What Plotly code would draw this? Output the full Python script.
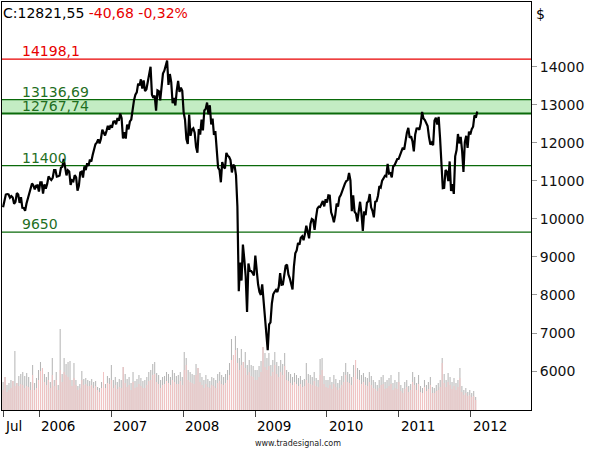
import pandas as pd
import plotly.graph_objects as go

# weekly closes (Friday), Jul 2005 - Feb 2012
close = [
    # 2005
    10303, 10449, 10641, 10652, 10641, 10558, 10600, 10559, 10397, 10447, 10678, 10641, 10419, 10569,
    10292, 10287, 10215, 10402, 10530, 10686, 10766, 10931, 10877, 10778, 10875, 10883, 10718,
    # 2006
    10959, 10960, 10667, 10907, 10793, 10919, 11115, 11061, 11022, 11076, 11280, 11280, 11109,
    11120, 11137, 11347, 11367, 11577, 11380, 11144, 11278, 11247, 10891, 11015, 10989, 11150,
    11090, 10739, 10869, 11220, 11240, 11088, 11381, 11284, 11464, 11393, 11560, 11508, 11679,
    11866, 11961, 12002, 12090, 11986, 12108, 12342, 12280, 12194, 12307, 12445, 12343, 12463,
    # 2007
    12398, 12556, 12566, 12487, 12653, 12580, 12768, 12647, 12114, 12276, 12111, 12481, 12354,
    12560, 12612, 12961, 13121, 13265, 13327, 13556, 13508, 13668, 13424, 13639, 13361, 13409,
    13612, 13907, 14000, 13266, 13182, 13240, 12845, 13379, 13358, 13113, 13443, 13821, 13896,
    14066, 14164, 13522, 13807, 13596, 13043, 13177, 12981, 13372, 13625, 13339, 13451, 13366,
    # 2008
    12800, 12606, 12099, 11971, 12743, 12183, 12348, 12381, 12266, 11894, 11740, 12362, 12216,
    12610, 12325, 12850, 12892, 13058, 12745, 12986, 12480, 12638, 12209, 12307, 11843, 11347,
    11288, 10962, 11496, 11370, 11326, 11734, 11659, 11628, 11544, 11220, 11421, 11388, 11143,
    10325, 8100, 8852, 8378, 9325, 8943, 8497, 7552, 8829, 8635, 8629, 8579, 8515,
    # 2009
    9034, 8599, 8281, 8077, 8001, 8280, 7850, 7366, 7063, 6547, 7224, 7279, 7776,
    8018, 8083, 8131, 8076, 8212, 8575, 8268, 8277, 8500, 8764, 8799, 8539, 8438,
    8280, 8146, 8744, 9093, 9172, 9370, 9321, 9506, 9544, 9441, 9606, 9820, 9665,
    9488, 9865, 9996, 9972, 9713, 10023, 10270, 10319, 10310, 10389, 10471, 10329, 10520,
    # 2010
    10428, 10618, 10610, 10173, 10067, 9908, 10099, 10402, 10325, 10566, 10625, 10742, 10851,
    10927, 10997, 11019, 11204, 11009, 10200, 10620, 10193, 10137, 9931, 10212, 10450, 10144,
    9686, 10198, 10098, 10425, 10466, 10654, 10303, 10213, 10040, 10448, 10462, 10608, 10860,
    10829, 11006, 11063, 11133, 11118, 11445, 11193, 11204, 11092, 11382, 11410, 11492, 11573, 11578,
    # 2011
    11675, 11787, 11872, 11824, 12092, 12273, 12391, 12130, 12170, 12044, 11774, 12221, 12377,
    12380, 12342, 12505, 12811, 12638, 12596, 12512, 12441, 12151, 11952, 12004, 11934, 12583,
    12657, 12480, 12681, 12143, 11444, 10810, 10818, 11285, 11240, 10992, 11510, 10733, 10913,
    10655, 11644, 11809, 12231, 11983, 12153, 11796, 11231, 12019, 12184, 11867, 12294, 12218,
    # 2012
    12360, 12422, 12720, 12660, 12821.55,
]

# volume (mio. shares), one bar every 10 days: total (grey) and down-volume part (pink)
vol_total = [
    140, 165, 125, 135, 150, 145, 295, 135, 170, 180, 190, 170, 185, 165, 140, 225, 135, 160, 200,
    240, 210, 180, 165, 190, 140, 260, 150, 190, 125, 405, 180, 260, 230, 240, 245, 150, 235, 150,
    120, 130, 195, 155, 160, 150, 145, 155, 140, 145, 115, 110, 140, 190, 130, 170, 160, 225,
    150, 165, 140, 155, 150, 215, 180, 155, 165, 135, 190, 145, 155, 175, 160, 145, 150, 165,
    190, 200, 230, 240, 185, 175, 150, 165, 170, 190, 180, 165, 200, 185, 170, 175, 190, 165,
    290, 260, 200, 190, 180, 175, 230, 210, 185, 165, 150, 175, 155, 145, 165, 160, 150, 180,
    190, 175, 165, 180, 200, 235, 355, 275, 370, 310, 260, 305, 240, 290, 225, 250, 225, 220, 200,
    200, 220, 245, 315, 285, 260, 285, 225, 250, 290, 240, 220, 250, 230, 285, 200, 190, 180,
    165, 185, 175, 160, 170, 150, 155, 235, 180, 175, 165, 190, 160, 150, 255, 260, 170, 150,
    150, 165, 140, 175, 155, 135, 150, 170, 190, 235, 190, 180, 165, 225, 250, 210, 200, 175,
    185, 165, 160, 190, 170, 150, 140, 125, 150, 165, 175, 140, 150, 160, 175, 135, 150, 140, 190,
    125, 110, 140, 150, 120, 130, 190, 165, 135, 175, 120, 110, 150, 125, 140, 165, 115, 110,
    125, 135, 150, 260, 180, 150, 185, 165, 140, 160, 135, 150, 210, 120, 100, 110, 90, 100,
    85, 95, 65,
]
vol_down = [
    100, 165, 90, 100, 110, 145, 120, 135, 120, 130, 125, 110, 120, 115, 100, 175, 100, 110, 150,
    195, 210, 140, 125, 150, 110, 175, 120, 150, 100, 200, 140, 190, 175, 165, 150, 120, 160, 125,
    100, 110, 150, 125, 130, 120, 120, 125, 110, 120, 100, 90, 110, 190, 110, 135, 130, 150,
    110, 125, 105, 115, 110, 215, 135, 115, 125, 100, 140, 110, 115, 130, 120, 110, 110, 125,
    145, 150, 175, 180, 140, 130, 110, 125, 130, 145, 135, 125, 150, 140, 130, 130, 145, 125,
    200, 225, 150, 140, 135, 130, 175, 210, 140, 125, 110, 130, 115, 110, 125, 120, 110, 135,
    145, 130, 125, 135, 150, 175, 250, 275, 300, 235, 200, 225, 240, 210, 175, 190, 170, 165, 150,
    150, 165, 190, 315, 215, 200, 220, 170, 190, 225, 180, 165, 190, 175, 220, 150, 145, 135,
    125, 140, 130, 120, 130, 115, 120, 150, 135, 130, 125, 145, 120, 115, 175, 200, 130, 115,
    110, 125, 105, 130, 115, 100, 110, 125, 140, 175, 140, 135, 125, 165, 250, 155, 150, 130,
    140, 125, 120, 140, 125, 110, 105, 95, 110, 125, 130, 105, 110, 120, 130, 100, 110, 105, 140,
    95, 85, 105, 115, 90, 100, 140, 125, 100, 130, 90, 85, 115, 95, 105, 125, 85, 85,
    95, 100, 115, 235, 135, 115, 140, 125, 105, 120, 100, 115, 160, 90, 75, 85, 70, 75,
    65, 70, 50,
]

levels = [14198.1, 13136.69, 12767.74, 11400, 9650]
level_text = ["14198,1", "13136,69", "12767,74", "11400", "9650"]
band = [12767.74, 13136.69]

year_ticks = ["2005-07-01", "2006-01-01", "2007-01-01", "2008-01-01", "2009-01-01",
              "2010-01-01", "2011-01-01", "2012-01-01"]
year_labels = ["Jul", "2006", "2007", "2008", "2009", "2010", "2011", "2012"]
price_ticks = [6000, 7000, 8000, 9000, 10000, 11000, 12000, 13000, 14000]

last_close = "12821,55"
change = "-40,68"
change_pct = "-0,32%"

RED = "#e80000"
GREEN_LINE = "#0a6a0a"
GREEN_TEXT = "#1f6f1f"
FONT = "DejaVu Sans"

weeks = pd.date_range("2005-07-01", periods=len(close), freq="W-FRI")
vol_dates = pd.date_range("2005-07-01", periods=len(vol_total), freq="10D")
bar_w = 86400000 * 5.2  # about one pixel

fig = go.Figure()
# a colour alpha < 1 makes plotly round thin bars to whole pixels instead of widening them
fig.add_trace(go.Bar(x=vol_dates, y=vol_total, yaxis="y2", width=bar_w,
                     marker=dict(color="rgba(180,180,180,0.99)", line_width=0)))
fig.add_trace(go.Bar(x=vol_dates, y=vol_down, yaxis="y2", width=bar_w,
                     marker=dict(color="rgba(243,196,196,0.99)", line_width=0)))
fig.add_trace(go.Scatter(x=weeks, y=close, mode="lines",
                         line=dict(color="black", width=2.2)))

shapes = [dict(type="rect", xref="paper", x0=0, x1=1, yref="y", y0=band[0], y1=band[1],
               fillcolor="#c3ecc3", line_width=0, layer="below")]
for lv in levels:
    col = RED if lv == levels[0] else GREEN_LINE
    w = 2 if lv == band[0] else 1.2
    shapes.append(dict(type="line", xref="paper", x0=0, x1=1, yref="y", y0=lv, y1=lv,
                       line=dict(color=col, width=w), layer="below"))

ann = []
for lv, txt in zip(levels, level_text):
    col = RED if lv == levels[0] else GREEN_TEXT
    ann.append(dict(x=0, xref="paper", xanchor="left", xshift=18, y=lv, yref="y",
                    yanchor="bottom", yshift=-2, text=txt, showarrow=False,
                    font=dict(size=14, color=col, family=FONT)))
for d, lab in zip(year_ticks, year_labels):
    ann.append(dict(x=d, xref="x", xanchor="left", xshift=0, y=0, yref="paper",
                    yanchor="top", yshift=-6, text=lab, showarrow=False,
                    font=dict(size=13.5, color="black", family=FONT)))
ann.append(dict(x=0, xref="paper", xanchor="left", xshift=-1, y=1, yref="paper",
                yanchor="top", yshift=-1,
                text=f"C:{last_close} <span style='color:{RED}'>{change} {change_pct}</span>",
                showarrow=False, font=dict(size=14, color="black", family=FONT)))
ann.append(dict(x=1, xref="paper", xanchor="left", xshift=3, y=1, yref="paper",
                yanchor="top", yshift=-2, text="$", showarrow=False,
                font=dict(size=14, color="black", family=FONT)))
ann.append(dict(x=0.56, xref="paper", xanchor="center", y=0, yref="paper",
                yanchor="top", yshift=-27, text="www.tradesignal.com", showarrow=False,
                font=dict(size=8, color="#222", family=FONT)))

fig.update_layout(
    width=595, height=450,
    margin=dict(l=2, r=64, t=2, b=40),
    plot_bgcolor="white", paper_bgcolor="white",
    showlegend=False, barmode="overlay",
    font=dict(family=FONT, size=14, color="black"),
    shapes=shapes, annotations=ann,
    xaxis=dict(type="date", range=["2005-06-25 14:00", "2012-11-02"],
               tickvals=year_ticks, showticklabels=False, ticks="outside",
               ticklen=6, tickcolor="#444", showgrid=False, zeroline=False,
               showline=True, linecolor="black", linewidth=1, mirror=True),
    yaxis=dict(side="right", range=[4976, 15701], tickvals=price_ticks, tickformat="d",
               ticks="outside", ticklen=5, tickcolor="#999", showgrid=False,
               zeroline=False, showline=True, linecolor="black", linewidth=1,
               mirror=True, tickfont=dict(size=14, color="#111", family=FONT)),
    yaxis2=dict(overlaying="y", range=[0, 2040], visible=False),
)

fig.write_html("out.html", config={"displayModeBar": False},
               post_script="document.body.style.margin='0';")
